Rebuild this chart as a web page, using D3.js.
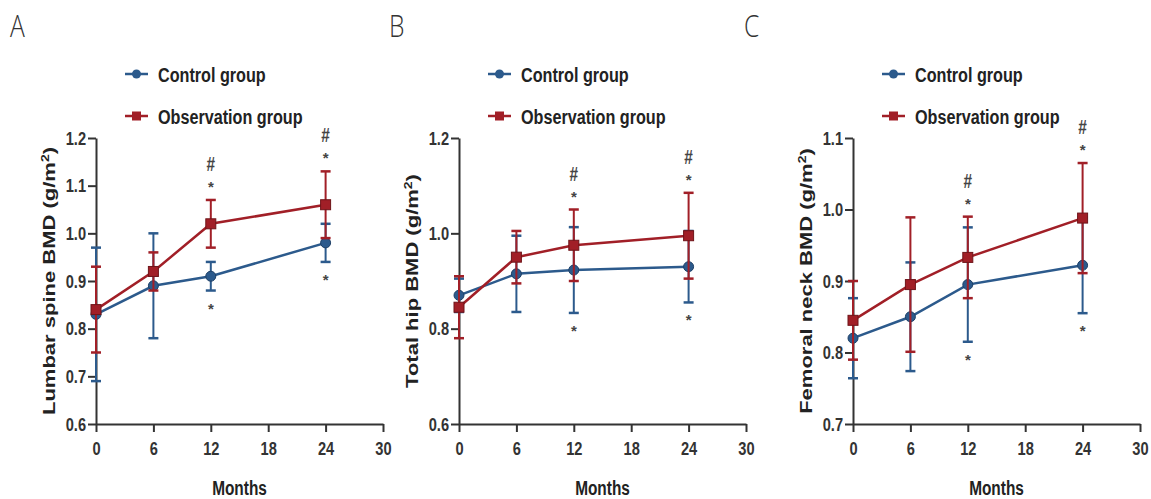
<!DOCTYPE html>
<html>
<head>
  <meta charset="utf-8">
  <title>BMD over time</title>
  <script src="https://d3js.org/d3.v7.min.js"></script>
  <style>
    html, body { margin: 0; background: #fff; overflow: hidden; }
    text { font-family: "Liberation Sans", Arial, sans-serif; fill: #222; }
    .axis path, .axis line { stroke: #333; stroke-width: 2px; }
    .axis text { font-size: 19px; font-weight: bold; fill: #333; }
  </style>
</head>
<body>
<svg width="1151" height="499"></svg>

<script>
// months on x
const months = [0, 6, 12, 24];
const xTicks = [0, 6, 12, 18, 24, 30];

const panelLetters = ["A", "B", "C"];
const yTitles = ["Lumbar spine BMD (g/m", "Total hip BMD (g/m", "Femoral neck BMD (g/m"];
const yDomains = [[0.6, 1.2], [0.6, 1.2], [0.7, 1.1]];
const yTickVals = [[0.6, 0.7, 0.8, 0.9, 1.0, 1.1, 1.2], [0.6, 0.8, 1.0, 1.2], [0.7, 0.8, 0.9, 1.0, 1.1]];

const seriesNames = ["Control group", "Observation group"];

// lumbar spine
const lumbarControl = [0.83, 0.89, 0.91, 0.98];
const lumbarControlSD = [0.14, 0.11, 0.03, 0.04];
const lumbarObs = [0.84, 0.92, 1.02, 1.06];
const lumbarObsSD = [0.09, 0.04, 0.05, 0.07];
// total hip
const hipControl = [0.87, 0.915, 0.923, 0.93];
const hipControlSD = [0.035, 0.08, 0.09, 0.075];
const hipObs = [0.845, 0.95, 0.975, 0.995];
const hipObsSD = [0.065, 0.055, 0.075, 0.09];
// femoral neck
const neckControl = [0.82, 0.85, 0.895, 0.922];
const neckControlSD = [0.056, 0.076, 0.08, 0.067];
const neckObs = [0.845, 0.895, 0.933, 0.988];
const neckObsSD = [0.055, 0.094, 0.057, 0.077];

// months marked with * (vs baseline) and # (vs control)
const starMonths = [12, 24];
const hashMonths = [12, 24];

const colors = ["#2c5a8c", "#a11f27"];
const sx = 0.77; // the original figure is squeezed horizontally

const panelData = [
  [[lumbarControl, lumbarControlSD], [lumbarObs, lumbarObsSD]],
  [[hipControl, hipControlSD], [hipObs, hipObsSD]],
  [[neckControl, neckControlSD], [neckObs, neckObsSD]]
];

const svg = d3.select("svg");
const lefts = [96, 459, 853];
const letterX = [10, 389, 744];
const plotW = 287, plotTop = 138, plotBottom = 424;

panelData.forEach((pd, p) => {
  const left = lefts[p];
  const g = svg.append("g");
  const x = d3.scaleLinear().domain([0, 30]).range([left, left + plotW]);
  const y = d3.scaleLinear().domain(yDomains[p]).range([plotBottom, plotTop]);

  // panel letter
  g.append("text")
    .attr("transform", `translate(${letterX[p]},37) scale(${sx},1)`)
    .style("font-family", "'Open Sans', 'DejaVu Sans', sans-serif")
    .style("font-weight", 300)
    .style("font-size", "32px")
    .style("fill", "#333")
    .text(panelLetters[p]);

  // axes
  const yAxis = g.append("g").attr("class", "axis")
    .attr("transform", `translate(${left},0)`)
    .call(d3.axisLeft(y).tickValues(yTickVals[p]).tickFormat(d3.format(".1f")).tickSize(8).tickSizeOuter(0));
  yAxis.selectAll(".tick text").attr("x", -10 / sx).attr("transform", `scale(${sx},1)`);

  const xAxis = g.append("g").attr("class", "axis")
    .attr("transform", `translate(0,${plotBottom})`)
    .call(d3.axisBottom(x).tickValues(xTicks).tickSize(8).tickSizeOuter(0));
  xAxis.selectAll(".tick text").attr("y", 18).attr("transform", `scale(${sx},1)`);

  // x title
  g.append("text")
    .attr("transform", `translate(${left + plotW / 2},495) scale(${sx},1)`)
    .attr("text-anchor", "middle")
    .style("font-size", "20px").style("font-weight", "bold")
    .text("Months");

  // y title
  const yt = g.append("text")
    .attr("transform", `translate(${left - 41},${(plotTop + plotBottom) / 2}) scale(${sx},1) rotate(-90)`)
    .attr("text-anchor", "middle")
    .style("font-size", "22px").style("font-weight", "bold");
  yt.append("tspan").text(yTitles[p]);
  yt.append("tspan").attr("baseline-shift", "super").style("font-size", "14px").text("2");
  yt.append("tspan").text(")");

  // series
  pd.forEach(([vals, sds], s) => {
    const pts = months.map((m, i) => ({ m, v: vals[i], sd: sds[i] }));
    const c = colors[s];

    const eb = g.append("g").attr("stroke", c).attr("stroke-width", 2);
    pts.forEach(d => {
      eb.append("line").attr("x1", x(d.m)).attr("x2", x(d.m))
        .attr("y1", y(d.v - d.sd)).attr("y2", y(d.v + d.sd));
      [d.v - d.sd, d.v + d.sd].forEach(e => {
        eb.append("line").attr("x1", x(d.m) - 5).attr("x2", x(d.m) + 5)
          .attr("y1", y(e)).attr("y2", y(e)).attr("stroke-width", 2.5);
      });
    });

    g.append("path").datum(pts)
      .attr("fill", "none").attr("stroke", c).attr("stroke-width", 2.5)
      .attr("d", d3.line().x(d => x(d.m)).y(d => y(d.v)));

    if (s === 0) {
      g.selectAll(null).data(pts).enter().append("circle")
        .attr("cx", d => x(d.m)).attr("cy", d => y(d.v)).attr("r", 5)
        .attr("fill", c).attr("stroke", "#1d3f66").attr("stroke-width", 1);
    } else {
      g.selectAll(null).data(pts).enter().append("rect")
        .attr("x", d => x(d.m) - 5).attr("y", d => y(d.v) - 5)
        .attr("width", 10).attr("height", 10)
        .attr("fill", c).attr("stroke", "#6e1419").attr("stroke-width", 1);
    }

    // annotations
    if (s === 0) {
      pts.filter(d => starMonths.includes(d.m)).forEach(d => {
        g.append("text").attr("x", x(d.m)).attr("y", y(d.v - d.sd) + 23)
          .attr("text-anchor", "middle").style("font-size", "15px").style("font-weight", "bold")
          .style("fill", "#444").text("*");
      });
    } else {
      pts.filter(d => starMonths.includes(d.m)).forEach(d => {
        g.append("text").attr("x", x(d.m)).attr("y", y(d.v + d.sd) - 8)
          .attr("text-anchor", "middle").style("font-size", "15px").style("font-weight", "bold")
          .style("fill", "#444").text("*");
      });
      pts.filter(d => hashMonths.includes(d.m)).forEach(d => {
        g.append("text").attr("transform", `translate(${x(d.m)},${y(d.v + d.sd) - 29}) scale(${sx},1)`)
          .attr("text-anchor", "middle").style("font-size", "20px").style("font-weight", "bold")
          .style("fill", "#444").text("#");
      });
    }
  });

  // legend
  seriesNames.forEach((name, s) => {
    const ly = 74 + s * 42;
    const lx = left + 29;
    const lg = g.append("g");
    lg.append("line").attr("x1", lx).attr("x2", lx + 23).attr("y1", ly).attr("y2", ly)
      .attr("stroke", colors[s]).attr("stroke-width", 2.5);
    if (s === 0) {
      lg.append("circle").attr("cx", lx + 11.5).attr("cy", ly).attr("r", 4.5).attr("fill", colors[s]);
    } else {
      lg.append("rect").attr("x", lx + 7).attr("y", ly - 4.5).attr("width", 9).attr("height", 9).attr("fill", colors[s]);
    }
    lg.append("text")
      .attr("transform", `translate(${lx + 33},${ly + 8}) scale(${sx},1)`)
      .style("font-size", "21px").style("font-weight", "bold").style("fill", "#222")
      .text(name);
  });
});
</script>
</body>
</html>
